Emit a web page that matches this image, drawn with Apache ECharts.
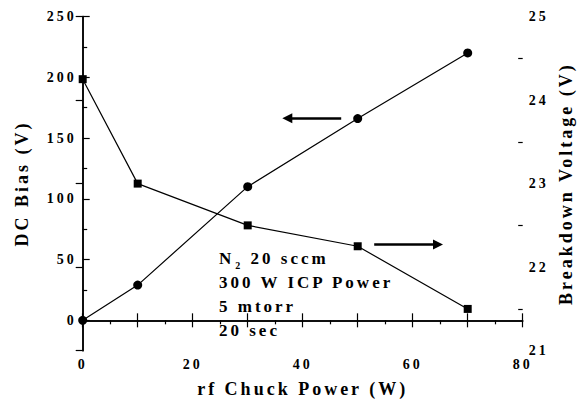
<!DOCTYPE html>
<html>
<head>
<meta charset="utf-8">
<script src="https://cdn.jsdelivr.net/npm/echarts@6/dist/echarts.min.js"></script>
<style>
  html, body { margin: 0; padding: 0; background: #fff; }
  #chart { width: 587px; height: 403px; }
  #chart text { letter-spacing: 3px; }
</style>
</head>
<body>
<div id="chart"></div>
<script>
// ---- data ----
const rfPower = [0, 10, 30, 50, 70];
const dcBias = [0, 29, 110, 166, 220];
const breakdownVoltage = [24.25, 23.0, 22.5, 22.25, 21.5];
const xTickLabels = [0, 20, 40, 60, 80];
const leftTickLabels = [0, 50, 100, 150, 200, 250];
const leftMinorTicks = [25, 75, 125, 175, 225];
const rightTickLabels = [21, 22, 23, 24, 25];
const rightMinorTicks = [21.5, 22.5, 23.5, 24.5];
const arrowToBias = [[47.0, 166.3], [37.2, 166.3]];
const arrowToVoltage = [[53.0, 22.27], [64.6, 22.27]];
const noteLines = ['300 W ICP Power', '5 mtorr', '20 sec'];

const FONT = 'Liberation Serif';
const black = '#000';
const labelStyle = { fontFamily: FONT, fontWeight: 'bold', fontSize: 14, color: black };
const nameStyle = { fontFamily: FONT, fontWeight: 'bold', fontSize: 18, color: black };
const lineStyle = { color: black, width: 1.5 };

const chart = echarts.init(document.getElementById('chart'), null, { renderer: 'svg' });

const option = {
  animation: false,
  backgroundColor: '#fff',
  grid: { left: 82.7, right: 64.3, top: 16.5, bottom: 52.3, containLabel: false },
  xAxis: [
    {
      type: 'value', position: 'bottom', min: 0, max: 80, interval: 10,
      axisLine: { show: true, lineStyle: lineStyle },
      axisTick: { show: true, inside: true, length: 7, lineStyle: { color: black, width: 1.2 } },
      axisLabel: Object.assign({ margin: 7, customValues: xTickLabels }, labelStyle),
      splitLine: { show: false },
      name: 'rf Chuck Power (W)', nameLocation: 'middle', nameGap: 29,
      nameTextStyle: nameStyle
    },
    {
      type: 'value', position: 'top', min: 0, max: 80, interval: 10,
      axisLine: { show: true, lineStyle: lineStyle },
      axisTick: { show: true, inside: true, length: 7, lineStyle: { color: black, width: 1.2 } },
      minorTick: { show: true, splitNumber: 2, length: 4, lineStyle: { color: black, width: 1.2 } },
      axisLabel: { show: false },
      splitLine: { show: false }
    }
  ],
  yAxis: [
    {
      type: 'value', position: 'left', min: -25, max: 250,
      axisLine: { show: true, lineStyle: lineStyle },
      axisTick: { show: true, inside: true, length: 7, customValues: leftTickLabels, lineStyle: { color: black, width: 1.2 } },
      axisLabel: Object.assign({ margin: 6, customValues: leftTickLabels }, labelStyle),
      splitLine: { show: false },
      name: 'DC Bias (V)', nameLocation: 'middle', nameGap: 52,
      nameTextStyle: nameStyle
    },
    {
      type: 'value', position: 'right', min: 21, max: 25,
      axisLine: { show: true, lineStyle: lineStyle },
      axisTick: { show: true, inside: true, length: 7, customValues: rightTickLabels, lineStyle: { color: black, width: 1.2 } },
      axisLabel: Object.assign({ margin: 6, customValues: rightTickLabels }, labelStyle),
      splitLine: { show: false },
      name: 'Breakdown Voltage (V)', nameLocation: 'middle', nameGap: 34,
      nameTextStyle: nameStyle
    },
    {
      type: 'value', position: 'left', min: -25, max: 250,
      axisLine: { show: false },
      axisTick: { show: true, inside: true, length: 4.5, customValues: leftMinorTicks, lineStyle: { color: black, width: 1.2 } },
      axisLabel: { show: false },
      splitLine: { show: false }
    },
    {
      type: 'value', position: 'right', min: 21, max: 25,
      axisLine: { show: false },
      axisTick: { show: true, inside: true, length: 4.5, customValues: rightMinorTicks, lineStyle: { color: black, width: 1.2 } },
      axisLabel: { show: false },
      splitLine: { show: false }
    }
  ],
  series: [
    {
      name: 'DC Bias', type: 'line', xAxisIndex: 0, yAxisIndex: 0,
      data: rfPower.map((x, i) => [x, dcBias[i]]),
      symbol: 'circle', symbolSize: 9,
      itemStyle: { color: black },
      lineStyle: { color: black, width: 1.2 },
      clip: false,
      markLine: {
        silent: true, symbol: ['none', 'triangle'], symbolSize: 10,
        label: { show: false },
        lineStyle: { color: black, width: 2.5, type: 'solid' },
        data: [[{ coord: arrowToBias[0] }, { coord: arrowToBias[1] }]]
      }
    },
    {
      name: 'Breakdown Voltage', type: 'line', xAxisIndex: 0, yAxisIndex: 1,
      data: rfPower.map((x, i) => [x, breakdownVoltage[i]]),
      symbol: 'rect', symbolSize: 8,
      itemStyle: { color: black },
      lineStyle: { color: black, width: 1.2 },
      clip: false,
      markLine: {
        silent: true, symbol: ['none', 'triangle'], symbolSize: 10,
        label: { show: false },
        lineStyle: { color: black, width: 2.5, type: 'solid' },
        data: [[{ coord: arrowToVoltage[0] }, { coord: arrowToVoltage[1] }]]
      }
    }
  ],
  graphic: [
    {
      type: 'text', left: 219, top: 250, silent: true,
      style: {
        text: '{b|N}{sub|2}{b| 20 sccm}\n{b|' + noteLines.join('}\n{b|') + '}',
        fill: black,
        rich: {
          b: { fontFamily: FONT, fontWeight: 'bold', fontSize: 17, lineHeight: 24, color: black },
          sub: { fontFamily: FONT, fontWeight: 'bold', fontSize: 10, lineHeight: 24, color: black, verticalAlign: 'bottom', padding: [0, 3, 0, 4] }
        }
      }
    }
  ]
};
chart.setOption(option);
</script>
</body>
</html>
